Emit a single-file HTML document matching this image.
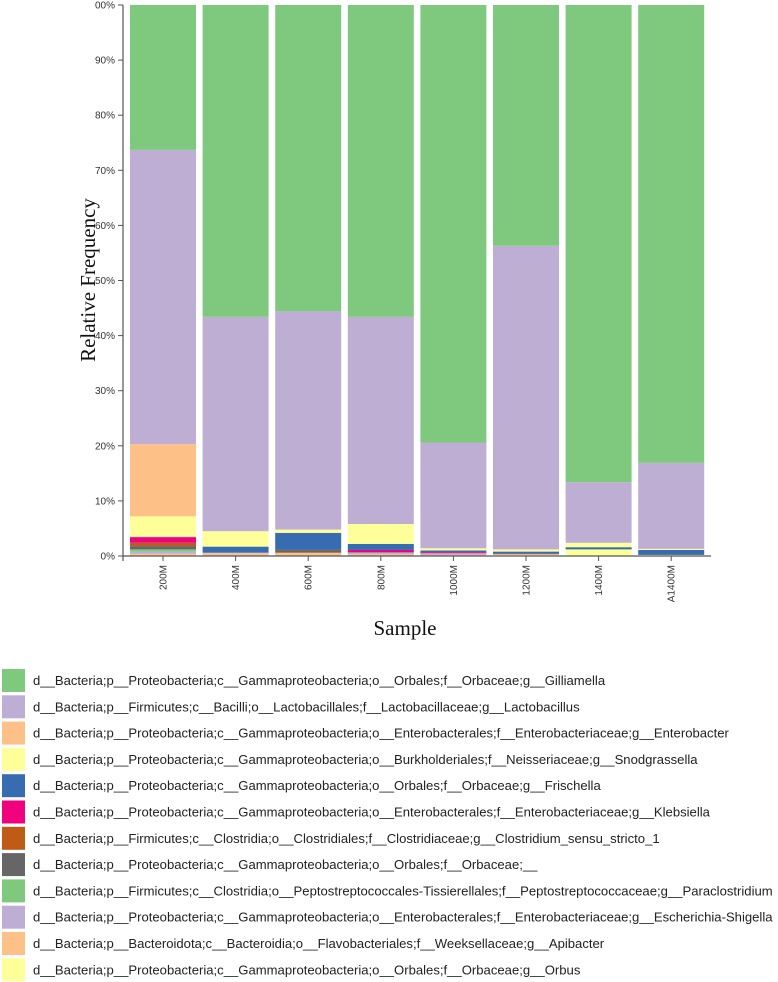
<!DOCTYPE html>
<html><head><meta charset="utf-8"><style>
body{margin:0;background:#fff;width:778px;height:982px;overflow:hidden}
svg{display:block}
</style></head><body>
<svg id="chart" width="778" height="982" xmlns="http://www.w3.org/2000/svg"></svg>
<script>
const samples=["200M","400M","600M","800M","1000M","1200M","1400M","A1400M"];
const taxa=["d__Bacteria;p__Proteobacteria;c__Gammaproteobacteria;o__Orbales;f__Orbaceae;g__Gilliamella",
"d__Bacteria;p__Firmicutes;c__Bacilli;o__Lactobacillales;f__Lactobacillaceae;g__Lactobacillus",
"d__Bacteria;p__Proteobacteria;c__Gammaproteobacteria;o__Enterobacterales;f__Enterobacteriaceae;g__Enterobacter",
"d__Bacteria;p__Proteobacteria;c__Gammaproteobacteria;o__Burkholderiales;f__Neisseriaceae;g__Snodgrassella",
"d__Bacteria;p__Proteobacteria;c__Gammaproteobacteria;o__Orbales;f__Orbaceae;g__Frischella",
"d__Bacteria;p__Proteobacteria;c__Gammaproteobacteria;o__Enterobacterales;f__Enterobacteriaceae;g__Klebsiella",
"d__Bacteria;p__Firmicutes;c__Clostridia;o__Clostridiales;f__Clostridiaceae;g__Clostridium_sensu_stricto_1",
"d__Bacteria;p__Proteobacteria;c__Gammaproteobacteria;o__Orbales;f__Orbaceae;__",
"d__Bacteria;p__Firmicutes;c__Clostridia;o__Peptostreptococcales-Tissierellales;f__Peptostreptococcaceae;g__Paraclostridium",
"d__Bacteria;p__Proteobacteria;c__Gammaproteobacteria;o__Enterobacterales;f__Enterobacteriaceae;g__Escherichia-Shigella",
"d__Bacteria;p__Bacteroidota;c__Bacteroidia;o__Flavobacteriales;f__Weeksellaceae;g__Apibacter",
"d__Bacteria;p__Proteobacteria;c__Gammaproteobacteria;o__Orbales;f__Orbaceae;g__Orbus"];
const colors=["#7fc97f","#beaed4","#fdc086","#ffff99","#386cb0","#f0027f","#bf5b17","#666666","#7fc97f","#beaed4","#fdc086","#ffff99"];
const gilliamella=[26.3,56.6,55.6,56.6,79.4,43.7,86.6,83.1];
const lactobacillus=[53.4,38.9,39.6,37.6,19.2,55.1,11.0,15.6];
const enterobacter=[13.1,0,0,0,0,0,0,0];
const snodgrassella=[3.7,2.8,0.6,3.6,0.4,0.4,0.8,0.2];
const frischella=[0.1,1.1,3.1,1.1,0.3,0.4,0.4,0.9];
const klebsiella=[1.0,0,0,0.4,0.2,0.1,0,0];
const clostridium=[0.6,0,0.1,0,0,0,0,0];
const orbaceae=[0.6,0,0.4,0.1,0,0,0,0];
const paraclostridium=[0.4,0,0,0,0,0,0,0];
const escherichia=[0.4,0.1,0,0.3,0.3,0,0,0];
const apibacter=[0.3,0.5,0.5,0.3,0.2,0,0,0];
const orbus=[0.1,0,0.1,0,0,0.3,1.2,0.2];
const series=[gilliamella,lactobacillus,enterobacter,snodgrassella,frischella,klebsiella,clostridium,orbaceae,paraclostridium,escherichia,apibacter,orbus];
const yTicks=["0%","10%","20%","30%","40%","50%","60%","70%","80%","90%","00%"];
const NS="http://www.w3.org/2000/svg";
const svg=document.getElementById('chart');
function mk(t,a,p){const e=document.createElementNS(NS,t);for(const k in a)e.setAttribute(k,a[k]);(p||svg).appendChild(e);return e;}
const y0=556,y1=5,axX=123;
function y(v){return y0-(y0-y1)*v/100;}
const step=72.6,bw=66,bx0=130;
function x(i){return bx0+i*step;}
samples.forEach((s,i)=>{
  const g=mk('g',{});
  
  
  let cum=0;
  for(let k=series.length-1;k>=0;k--){
    const v=series[k][i]; if(!v) continue;
    const r=mk('rect',{x:x(i),y:y(cum+v),width:bw,height:y(cum)-y(cum+v),fill:colors[k]},g);
    
    
    cum+=v;
  }
});
const ya=mk('g',{});


mk('line',{x1:axX,y1:y1,x2:axX,y2:y0+5,stroke:'#555','stroke-width':1.2},ya);
yTicks.forEach((t,i)=>{
  const v=i*10;
  mk('line',{x1:axX-5,y1:y(v),x2:axX,y2:y(v),stroke:'#555'},ya);
  const tx=mk('text',{x:axX-8,y:y(v)+3.5,'text-anchor':'end','font-size':'10','font-family':'Liberation Sans, sans-serif',fill:'#333'},ya);
  tx.textContent=t;
  
  
});
const xa=mk('g',{});


mk('line',{x1:axX,y1:y0,x2:711,y2:y0,stroke:'#555','stroke-width':1.2},xa);
samples.forEach((s,i)=>{
  const cx=x(i)+bw/2;
  mk('line',{x1:cx,y1:y0,x2:cx,y2:y0+5,stroke:'#555'},xa);
  const tx=mk('text',{transform:`translate(${cx+3.5},${y0+9}) rotate(-90)`,'text-anchor':'end','font-size':'10','font-family':'Liberation Sans, sans-serif',fill:'#333'},xa);
  tx.textContent=s;
  
  
});
const yt=mk('text',{transform:'translate(95,280) rotate(-90)','text-anchor':'middle','font-size':'21','font-family':'Liberation Serif, serif',fill:'#111'});
yt.textContent='Relative Frequency';


const xt=mk('text',{x:405,y:635,'text-anchor':'middle','font-size':'21','font-family':'Liberation Serif, serif',fill:'#111'});
xt.textContent='Sample';


const lg=mk('g',{});


taxa.forEach((t,k)=>{
  const ly=669+k*26.3;
  const e=mk('g',{},lg);
  
  
  mk('rect',{x:2,y:ly,width:23,height:23,fill:colors[k]},e);
  const tx=mk('text',{x:33,y:ly+16,'font-size':'13.1','font-family':'Liberation Sans, sans-serif',fill:'#222'},e);
  tx.textContent=t;
});
</script>
</body></html>
